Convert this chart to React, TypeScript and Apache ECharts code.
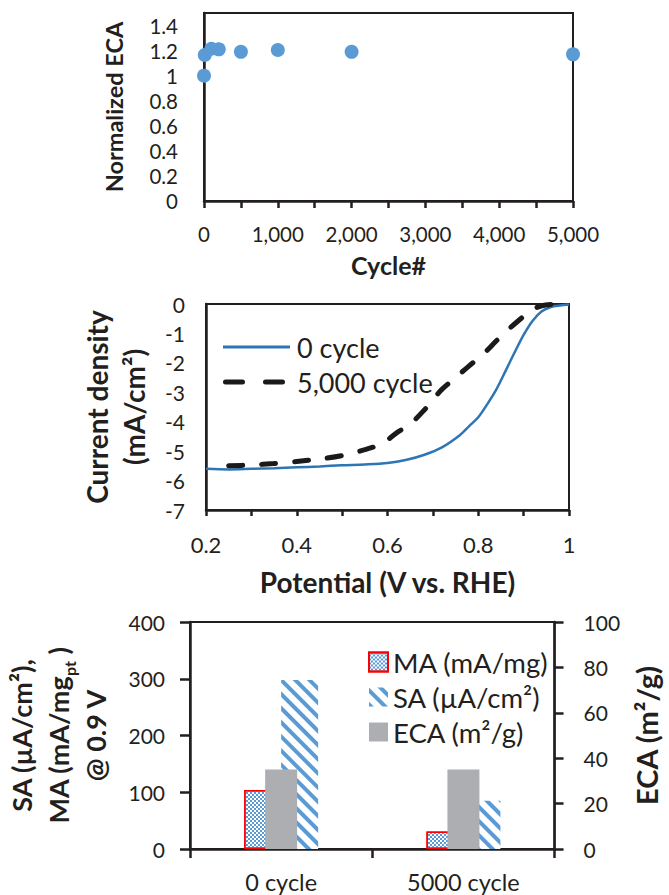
import React, { useEffect, useRef } from 'react';
import * as echarts from 'echarts';

// ---------- Data ----------
// Top panel: normalized ECA vs cycle number
const ecaCycles = [0, 10, 100, 200, 500, 1000, 2000, 5000];
const ecaNormalized = [1.0, 1.165, 1.215, 1.21, 1.19, 1.205, 1.19, 1.17];

// Middle panel: ORR polarization curves
const potential0 = [0.2, 0.25, 0.3, 0.35, 0.4, 0.45, 0.5, 0.55, 0.6, 0.64, 0.68, 0.72, 0.76, 0.78, 0.8, 0.82, 0.84, 0.86, 0.88, 0.9, 0.92, 0.94, 0.96, 0.98, 1.0];
const current0 = [-5.6, -5.62, -5.6, -5.58, -5.55, -5.52, -5.48, -5.45, -5.4, -5.3, -5.13, -4.87, -4.45, -4.15, -3.85, -3.4, -2.9, -2.28, -1.65, -1.05, -0.57, -0.25, -0.1, -0.05, -0.02];
const potential5000 = [0.25, 0.3, 0.35, 0.4, 0.45, 0.5, 0.55, 0.58, 0.6, 0.62, 0.65, 0.68, 0.7, 0.72, 0.75, 0.78, 0.81, 0.84, 0.86, 0.88, 0.9, 0.92, 0.94, 0.96, 1.0];
const current5000 = [-5.5, -5.47, -5.42, -5.35, -5.27, -5.15, -4.95, -4.8, -4.62, -4.38, -4.08, -3.62, -3.25, -2.9, -2.5, -2.1, -1.72, -1.25, -0.95, -0.68, -0.42, -0.18, -0.06, -0.02, 0.0];

// Bottom panel: activities and ECA
const barCategories = ['0 cycle', '5000 cycle'];
const massActivity = [104, 31];
const specificActivity = [298, 85];
const ecaValues = [35, 35];

const lsvLegend = ['0 cycle', '5,000 cycle'];
const barLegend = ['MA (mA/mg)', 'SA (µA/cm²)', 'ECA (m²/g)'];

// ---------- Styles ----------
const INK = '#231F20';
const FONT = 'Lato';
const BLUE = '#5B9BD5';
const LINE_BLUE = '#2E75B6';
const DASH_BLACK = '#1A1A1A';

const fmtNum = (v: number) => String(+v.toFixed(2));

export default function App() {
  const ref = useRef<HTMLDivElement>(null);
  useEffect(() => {
    if (!ref.current) return;
    const chart = echarts.init(ref.current, undefined, { renderer: 'svg' });

    const axisLine = { show: true, onZero: false, lineStyle: { color: INK, width: 2.5 } };
    const tickLabel = (size: number, margin: number, formatter?: any) => ({
      fontSize: size, color: INK, fontFamily: FONT, margin, formatter,
    });
    const titleStyle = (size: number, lh: number) => ({
      fontSize: size, fontWeight: 'bold', color: INK, fontFamily: FONT, lineHeight: lh,
    });

    const option: any = {
      animation: false,
      backgroundColor: '#ffffff',
      textStyle: { fontFamily: FONT },
      grid: [
        { left: 204, top: 13, width: 369, height: 188, show: true, borderColor: INK, borderWidth: 2 },
        { left: 206, top: 304, width: 363, height: 206, show: true, borderColor: INK, borderWidth: 2 },
        { left: 190, top: 622, width: 387, height: 227, show: true, borderColor: INK, borderWidth: 2 },
      ],
      xAxis: [
        {
          gridIndex: 0, type: 'value', min: 0, max: 5000, interval: 500,
          axisLine, axisTick: { show: true, length: 7, lineStyle: { color: INK, width: 2.5 } },
          axisLabel: tickLabel(20.5, 22, (v: number) => (v % 1000 === 0 ? v.toLocaleString('en-US') : '')),
          splitLine: { show: false },
          name: 'Cycle#', nameLocation: 'middle', nameGap: 50, nameTextStyle: titleStyle(25, 28),
        },
        {
          gridIndex: 1, type: 'value', min: 0.2, max: 1.0, interval: 0.1,
          axisLine, axisTick: { show: true, length: 6, lineStyle: { color: INK, width: 2.5 } },
          axisLabel: tickLabel(22, 23, (v: number) => (Math.round(v * 10) % 2 === 0 ? fmtNum(v) : '')),
          splitLine: { show: false },
          name: 'Potential (V vs. RHE)', nameLocation: 'middle', nameGap: 56, nameTextStyle: titleStyle(28, 32),
        },
        {
          gridIndex: 2, type: 'category', data: barCategories,
          axisLine, axisTick: { show: true, length: 9, lineStyle: { color: INK, width: 2.5 } },
          axisLabel: tickLabel(23.5, 21),
        },
        {
          gridIndex: 2, type: 'category', data: barCategories, show: false,
        },
      ],
      yAxis: [
        {
          gridIndex: 0, type: 'value', min: 0, max: 1.5, interval: 0.2,
          axisLine, axisTick: { show: false },
          axisLabel: tickLabel(20.5, 26, (v: number) => (v > 1.45 ? '' : fmtNum(v))),
          splitLine: { show: false },
          name: 'Normalized ECA', nameLocation: 'middle', nameRotate: 90, nameGap: 77, nameTextStyle: titleStyle(23.5, 26),
        },
        {
          gridIndex: 1, type: 'value', min: -7, max: 0, interval: 1,
          axisLine, axisTick: { show: false },
          axisLabel: tickLabel(21, 21),
          splitLine: { show: false },
          name: 'Current density\n(mA/cm²)', nameLocation: 'middle', nameRotate: 90, nameGap: 54,
          nameTextStyle: titleStyle(28, 37),
        },
        {
          gridIndex: 2, type: 'value', min: 0, max: 400, interval: 100,
          axisLine, axisTick: { show: true, length: 10, lineStyle: { color: INK, width: 2.5 } },
          axisLabel: tickLabel(21, 25),
          splitLine: { show: false },
          name: '{a|SA (µA/cm²),}\n{a|MA (mA/mg}{s|pt}{a| )}\n{a|@ 0.9 V}',
          nameLocation: 'middle', nameRotate: 90, nameGap: 76,
          nameTextStyle: {
            rich: {
              a: titleStyle(27, 37),
              s: { fontSize: 16, fontWeight: 'bold', color: INK, fontFamily: FONT, lineHeight: 16, verticalAlign: 'bottom' },
            },
          },
        },
        {
          gridIndex: 2, type: 'value', position: 'right', min: 0, max: 100, interval: 20,
          axisLine, axisTick: { show: true, length: 9, lineStyle: { color: INK, width: 2.5 } },
          axisLabel: tickLabel(21, 29),
          splitLine: { show: false },
          name: 'ECA (m²/g)', nameLocation: 'middle', nameRotate: 90, nameGap: 63,
          nameTextStyle: titleStyle(29, 30),
        },
      ],
      legend: [
        {
          data: barLegend, left: 363, top: 642, orient: 'vertical', icon: 'rect',
          itemWidth: 19, itemHeight: 19, itemGap: 5,
          textStyle: { fontSize: 27.5, lineHeight: 30, color: INK, fontFamily: FONT },
        },
      ],
      graphic: [
        { type: 'line', shape: { x1: 223, y1: 347, x2: 290, y2: 347 }, style: { stroke: LINE_BLUE, lineWidth: 3 } },
        {
          type: 'line', shape: { x1: 225.5, y1: 382, x2: 287.5, y2: 382 },
          style: { stroke: DASH_BLACK, lineWidth: 5, lineDash: [17, 23], lineCap: 'round' },
        },
        {
          type: 'text', x: 297, y: 347,
          style: { text: lsvLegend[0], fontSize: 27, fontFamily: FONT, fill: INK, verticalAlign: 'middle', align: 'left' },
        },
        {
          type: 'text', x: 297, y: 382,
          style: { text: lsvLegend[1], fontSize: 27, fontFamily: FONT, fill: INK, verticalAlign: 'middle', align: 'left' },
        },
      ],
      series: [
        {
          type: 'scatter', xAxisIndex: 0, yAxisIndex: 0,
          data: ecaCycles.map((c, i) => [c, ecaNormalized[i]]),
          symbolSize: 14, itemStyle: { color: BLUE, opacity: 1 }, clip: false,
        },
        {
          name: lsvLegend[0], type: 'line', xAxisIndex: 1, yAxisIndex: 1,
          data: potential0.map((p, i) => [p, current0[i]]),
          symbol: 'none', smooth: 0.3, clip: false,
          lineStyle: { color: LINE_BLUE, width: 2.5 }, itemStyle: { color: LINE_BLUE },
        },
        {
          name: lsvLegend[1], type: 'line', xAxisIndex: 1, yAxisIndex: 1,
          data: potential5000.map((p, i) => [p, current5000[i]]),
          symbol: 'none', smooth: 0.3, clip: false,
          lineStyle: { color: DASH_BLACK, width: 5, type: [14, 19], cap: 'round' }, itemStyle: { color: DASH_BLACK },
        },
        {
          name: barLegend[0], type: 'bar', xAxisIndex: 2, yAxisIndex: 2,
          data: massActivity, barWidth: 37, barGap: '0%',
          itemStyle: {
            color: '#ffffff', borderColor: '#FF0000', borderWidth: 1.5,
            decal: { symbol: 'rect', symbolSize: 1, color: BLUE, dashArrayX: [[2, 2], [0, 2, 2, 0]], dashArrayY: [2, 0] },
          },
        },
        {
          name: barLegend[1], type: 'bar', xAxisIndex: 2, yAxisIndex: 2,
          data: specificActivity, barWidth: 37, barGap: '0%',
          itemStyle: {
            color: '#ffffff',
            decal: { symbol: 'rect', symbolSize: 1, color: BLUE, dashArrayX: [1, 0], dashArrayY: [3.5, 6], rotation: Math.PI / 4 },
          },
        },
        {
          name: barLegend[2], type: 'bar', xAxisIndex: 3, yAxisIndex: 3,
          data: ecaValues, barWidth: 32, z: 3,
          itemStyle: { color: '#ADAEB2' },
        },
      ],
    };
    chart.setOption(option);
    return () => chart.dispose();
  }, []);

  return (
    <div
      ref={ref}
      style={{ position: 'absolute', left: 0, top: 0, width: 669, height: 895, background: '#fff' }}
    />
  );
}
